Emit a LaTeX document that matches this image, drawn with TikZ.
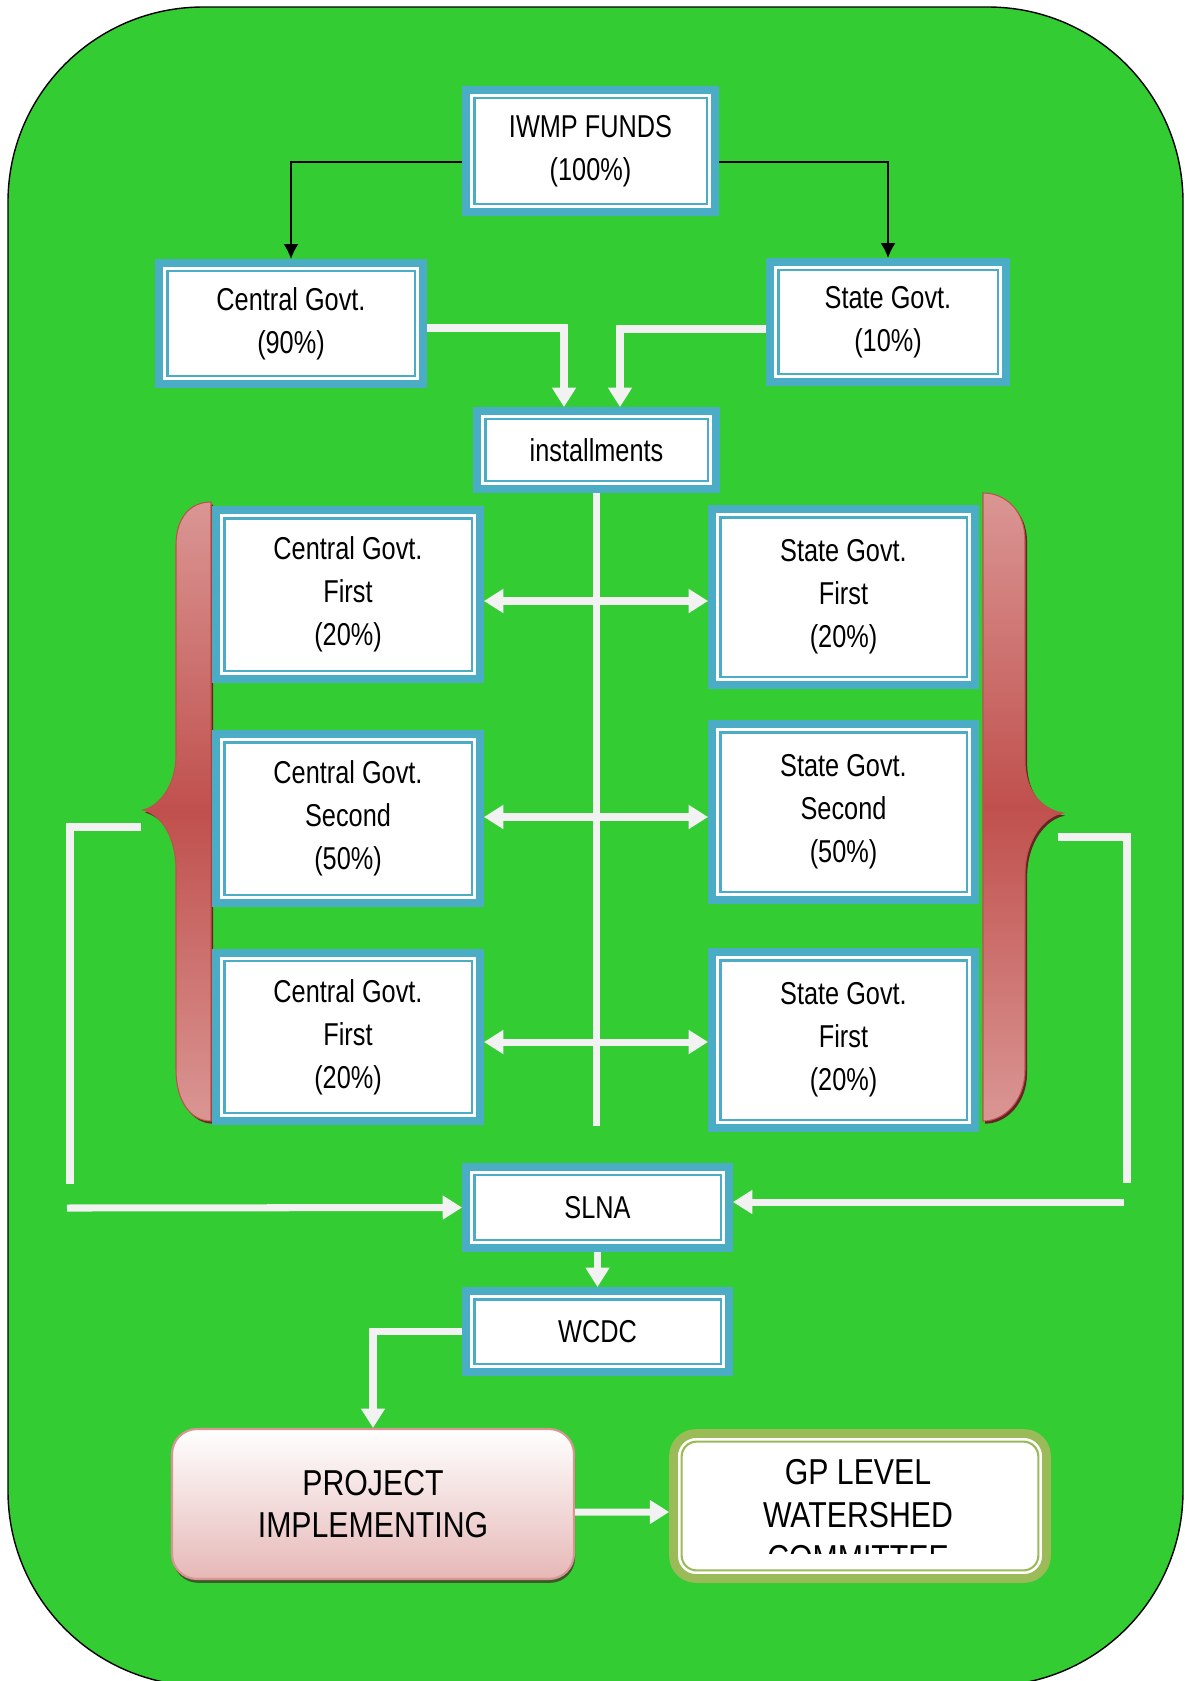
\documentclass[tikz,border=0pt]{standalone}
\usepackage{fontspec}
\setmainfont{Liberation Sans}[FakeStretch=0.8]
\newfontfamily\lowfont{Liberation Sans}[FakeStretch=0.84]
\usetikzlibrary{arrows.meta}

\definecolor{bggreen}{HTML}{33CC33}
\definecolor{boxblue}{HTML}{4BACC6}
\definecolor{arrowwhite}{HTML}{F2F2F2}
\definecolor{bracelight}{HTML}{DA9694}
\definecolor{bracered}{HTML}{C0504D}
\definecolor{braceshadow}{HTML}{632523}
\definecolor{projpink}{HTML}{E6B8B7}
\definecolor{projborder}{HTML}{D99594}
\definecolor{projshadow}{HTML}{3A5A2A}
\definecolor{gpgreen}{HTML}{9BBB59}

\tikzset{
  fundbox/.style={draw=boxblue, line width=4.8pt, fill=white, inner sep=0pt,
    align=center, font=\fontsize{18}{24.5}\selectfont,
    path picture={\draw[boxblue, line width=1.3pt]
      ([shift={(4.6pt,-4.6pt)}]path picture bounding box.north west) rectangle
      ([shift={(-4.6pt,4.6pt)}]path picture bounding box.south east);}},
  cbox/.style={fundbox, minimum width=5.27cm, minimum height=3.37cm},
  sbox/.style={fundbox, minimum width=5.25cm, minimum height=3.51cm},
  projbox/.style={draw=projborder, line width=1.2pt, rounded corners=0.5cm,
    top color=white, bottom color=projpink, align=center,
    minimum width=8.04cm, minimum height=3cm,
    font=\lowfont\fontsize{20.5}{24}\selectfont,
    preaction={fill=projshadow, transform canvas={shift={(0.6pt,-2.2pt)}}}},
  gpbox/.style={draw=gpgreen, line width=5pt, fill=white, rounded corners=0.45cm,
    minimum width=7.46cm, minimum height=2.9cm,
    path picture={\draw[gpgreen, line width=1.2pt, rounded corners=0.3cm]
      ([shift={(4.6pt,-4.6pt)}]path picture bounding box.north west) rectangle
      ([shift={(-4.6pt,4.6pt)}]path picture bounding box.south east);}},
  brace/.style={draw=bracered, line width=0.6pt,
    top color=bracelight, bottom color=bracelight, middle color=bracered,
    preaction={fill=braceshadow, transform canvas={shift={(1.2pt,-1.5pt)}}}},
  wline/.style={draw=arrowwhite, line width=4pt},
  blackarrow/.style={draw=black, line width=1pt, -{Latex[length=8.5pt,width=8.5pt]}}
}

\begin{document}
\begin{tikzpicture}[x=0.02cm, y=-0.02cm, >={Triangle[width=13pt,length=11pt]}]
        \useasboundingbox (0,0) rectangle (1184,1681);
        % background
        \draw[fill=bggreen, line width=0.8pt, rounded corners=3.9cm] (8,7) rectangle (1183,1686);
        % braces
        \draw[brace] (211,502) -- (211,1121) .. controls (190,1121) and (176,1100) .. (176,1070)
            -- (176,870) .. controls (176,835) and (160,814) .. (143,810)
            .. controls (160,806) and (176,785) .. (176,755)
            -- (176,545) .. controls (176,518) and (190,502) .. (211,502) -- cycle;
        \draw[brace] (983,493) -- (983,1121) .. controls (1005,1121) and (1025,1100) .. (1025,1070)
            -- (1025,875) .. controls (1025,838) and (1045,816) .. (1063,813)
            .. controls (1045,810) and (1025,795) .. (1025,760)
            -- (1025,540) .. controls (1025,510) and (1005,493) .. (983,493) -- cycle;
        % Funds
        \node[fundbox, minimum width=4.97cm, minimum height=2.43cm] (iwmp) at (590.5,151) {IWMP FUNDS\\(100\%)};
        \node[fundbox, minimum width=5.27cm, minimum height=2.41cm] (cgov) at (291,323.5) {Central Govt.\\(90\%)};
        \node[fundbox, minimum width=4.71cm, minimum height=2.39cm] (sgov) at (888,322) {State Govt.\\(10\%)};
        \node[fundbox, minimum width=4.77cm, minimum height=1.55cm] (inst) at (596.5,450) {installments};
        % Installments
        \node[cbox] (cfirst) at (348,594.5) {Central Govt.\\First\\(20\%)};
        \node[cbox] (csecond) at (348,818.5) {Central Govt.\\Second\\(50\%)};
        \node[cbox] (cthird) at (348,1037) {Central Govt.\\First\\(20\%)};
        \node[sbox] (sfirst) at (843.5,597) {State Govt.\\First\\(20\%)};
        \node[sbox] (ssecond) at (843.5,812) {State Govt.\\Second\\(50\%)};
        \node[sbox] (sthird) at (843.5,1040) {State Govt.\\First\\(20\%)};
        % Agencies
        \node[fundbox, minimum width=5.25cm, minimum height=1.61cm] (slna) at (597.5,1207.5) {SLNA};
        \node[fundbox, minimum width=5.25cm, minimum height=1.61cm] (wcdc) at (597.5,1331.5) {WCDC};
        \node[projbox] (proj) at (373,1504) {PROJECT\\IMPLEMENTING};
        \node[gpbox] (gp) at (860,1506) {};
        \begin{scope}
            \clip (672,1430) rectangle (1048,1553);
            \node[align=center, font=\lowfont\fontsize{20.5}{24.4}\selectfont] (gptext) at (858,1515) {GP LEVEL\\WATERSHED\\COMMITTEE};
        \end{scope}
        % split
        \draw[blackarrow] ([yshift=-0.22cm]iwmp.west) -| (cgov.north);
        \draw[blackarrow] ([yshift=-0.22cm]iwmp.east) -| (sgov.north);
        \draw[wline,->] ([yshift=-0.09cm]cgov.east) -| ([xshift=-0.65cm]inst.north);
        \draw[wline,->] ([yshift=-0.14cm]sgov.west) -| ([xshift=0.47cm]inst.north);
        % trunk
        \coordinate (trunkend) at (597,1126);
        \coordinate (row1) at (597,601);
        \coordinate (row2) at (597,817);
        \coordinate (row3) at (597,1042);
        \draw[wline] (inst.south) -- (inst.south |- trunkend);
        \draw[wline,<->] (cfirst.east |- row1) -- (sfirst.west |- row1);
        \draw[wline,<->] (csecond.east |- row2) -- (ssecond.west |- row2);
        \draw[wline,<->] (cthird.east |- row3) -- (sthird.west |- row3);
        % feedback
        \coordinate (lfb) at (141,827);
        \coordinate (lfbend) at (70,1184);
        \coordinate (lin) at (67,1208);
        \draw[wline] (lfb) -| (lfbend);
        \draw[wline,->] (lin) -- (slna.west);
        \coordinate (rfb) at (1058,837);
        \coordinate (rfbend) at (1127,1183);
        \coordinate (rin) at (1124,1202);
        \draw[wline] (rfb) -| (rfbend);
        \draw[wline,->] (rin) -- (slna.east |- rin);
        % down
        \draw[wline,->] (slna.south) -- (wcdc.north);
        \draw[wline,->] (wcdc.west) -| (proj.north);
        \draw[wline,->] ([yshift=-0.16cm]proj.east) -- ([yshift=-0.12cm]gp.west);
\end{tikzpicture}
\end{document}
